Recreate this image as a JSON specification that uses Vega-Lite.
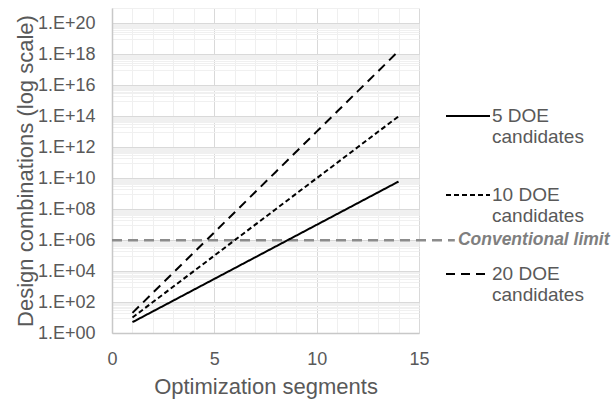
{
  "$schema": "https://vega.github.io/schema/vega-lite/v6.json",
  "width": 307,
  "height": 325,
  "autosize": {"type": "none"},
  "padding": {"left": 112, "top": 8, "right": 195, "bottom": 67},
  "background": "white",
  "config": {"font": "Liberation Sans", "view": {"stroke": null}},
  "datasets": {
    "series": [
      {"n": 1, "series": "5 DOE", "combos": 5},
      {"n": 2, "series": "5 DOE", "combos": 25},
      {"n": 3, "series": "5 DOE", "combos": 125},
      {"n": 4, "series": "5 DOE", "combos": 625},
      {"n": 5, "series": "5 DOE", "combos": 3125},
      {"n": 6, "series": "5 DOE", "combos": 15625},
      {"n": 7, "series": "5 DOE", "combos": 78125},
      {"n": 8, "series": "5 DOE", "combos": 390625},
      {"n": 9, "series": "5 DOE", "combos": 1953125},
      {"n": 10, "series": "5 DOE", "combos": 9765625},
      {"n": 11, "series": "5 DOE", "combos": 48828125},
      {"n": 12, "series": "5 DOE", "combos": 244140625},
      {"n": 13, "series": "5 DOE", "combos": 1220703125},
      {"n": 14, "series": "5 DOE", "combos": 6103515625},
      {"n": 1, "series": "10 DOE", "combos": 10},
      {"n": 2, "series": "10 DOE", "combos": 100},
      {"n": 3, "series": "10 DOE", "combos": 1000},
      {"n": 4, "series": "10 DOE", "combos": 10000},
      {"n": 5, "series": "10 DOE", "combos": 100000},
      {"n": 6, "series": "10 DOE", "combos": 1000000},
      {"n": 7, "series": "10 DOE", "combos": 10000000},
      {"n": 8, "series": "10 DOE", "combos": 100000000},
      {"n": 9, "series": "10 DOE", "combos": 1000000000},
      {"n": 10, "series": "10 DOE", "combos": 10000000000},
      {"n": 11, "series": "10 DOE", "combos": 100000000000},
      {"n": 12, "series": "10 DOE", "combos": 1000000000000},
      {"n": 13, "series": "10 DOE", "combos": 10000000000000},
      {"n": 14, "series": "10 DOE", "combos": 100000000000000},
      {"n": 1, "series": "20 DOE", "combos": 20},
      {"n": 2, "series": "20 DOE", "combos": 400},
      {"n": 3, "series": "20 DOE", "combos": 8000},
      {"n": 4, "series": "20 DOE", "combos": 160000},
      {"n": 5, "series": "20 DOE", "combos": 3200000},
      {"n": 6, "series": "20 DOE", "combos": 64000000},
      {"n": 7, "series": "20 DOE", "combos": 1280000000},
      {"n": 8, "series": "20 DOE", "combos": 25600000000},
      {"n": 9, "series": "20 DOE", "combos": 512000000000},
      {"n": 10, "series": "20 DOE", "combos": 10240000000000},
      {"n": 11, "series": "20 DOE", "combos": 204800000000000},
      {"n": 12, "series": "20 DOE", "combos": 4096000000000000},
      {"n": 13, "series": "20 DOE", "combos": 81920000000000000},
      {"n": 14, "series": "20 DOE", "combos": 1638400000000000000}
    ],
    "limit": [{"label": "Conventional limit", "value": 1000000}]
  },
  "layer": [
    {
      "data": {"name": "limit"},
      "mark": {"type": "rule", "color": "#8c8c8c", "strokeWidth": 2.5, "strokeDash": [10, 6]},
      "encoding": {
        "x": {
          "datum": 0,
          "type": "quantitative",
          "scale": {"domain": [0, 15], "nice": false, "zero": false},
          "axis": {
            "title": "Optimization segments",
            "titleFontSize": 22,
            "titleFontWeight": "normal",
            "titleColor": "#595959",
            "titlePadding": 8,
            "labelFontSize": 18,
            "labelColor": "#595959",
            "labelPadding": 17,
            "labelOverlap": false,
            "labelFlush": false,
            "labelBound": false,
            "ticks": false,
            "grid": true,
            "domainColor": "#c8c8c8",
            "domainWidth": 1.5,
            "values": [1, 2, 3, 4, 6, 7, 8, 9, 11, 12, 13, 14, 0, 5, 10, 15],
            "labelExpr": "datum.value % 5 === 0 ? datum.label : ''",
            "gridColor": {"condition": {"test": "datum.value % 5 === 0", "value": "#d9d9d9"}, "value": "#efefef"},
            "gridWidth": 1
          }
        },
        "x2": {"datum": 16.75},
        "y": {"field": "value", "type": "quantitative"}
      }
    },
    {
      "data": {"name": "series"},
      "mark": {"type": "line", "color": "black", "strokeWidth": 2},
      "encoding": {
        "x": {
          "field": "n",
          "type": "quantitative",
          "scale": {"domain": [0, 15], "nice": false, "zero": false},
          "axis": {
            "title": "Optimization segments",
            "titleFontSize": 22,
            "titleFontWeight": "normal",
            "titleColor": "#595959",
            "titlePadding": 8,
            "labelFontSize": 18,
            "labelColor": "#595959",
            "labelPadding": 17,
            "labelOverlap": false,
            "labelFlush": false,
            "labelBound": false,
            "ticks": false,
            "grid": true,
            "domainColor": "#c8c8c8",
            "domainWidth": 1.5,
            "values": [1, 2, 3, 4, 6, 7, 8, 9, 11, 12, 13, 14, 0, 5, 10, 15],
            "labelExpr": "datum.value % 5 === 0 ? datum.label : ''",
            "gridColor": {"condition": {"test": "datum.value % 5 === 0", "value": "#d9d9d9"}, "value": "#efefef"},
            "gridWidth": 1
          }
        },
        "y": {
          "field": "combos",
          "type": "quantitative",
          "scale": {"type": "log", "domain": [1, 1e21], "nice": false},
          "axis": {
            "title": "Design combinations (log scale)",
            "titleFontSize": 22,
            "titleFontWeight": "normal",
            "titleColor": "#595959",
            "titlePadding": 0,
            "labelFontSize": 18,
            "labelColor": "#595959",
            "labelPadding": 17,
            "labelOverlap": false,
            "labelFlush": false,
            "labelBound": false,
            "ticks": false,
            "domainColor": "#c8c8c8",
            "domainWidth": 1.5,
            "values": [
              10, 20, 30, 40, 50, 60, 70, 80, 90,
              1e3, 2e3, 3e3, 4e3, 5e3, 6e3, 7e3, 8e3, 9e3,
              1e5, 2e5, 3e5, 4e5, 5e5, 6e5, 7e5, 8e5, 9e5,
              1e7, 2e7, 3e7, 4e7, 5e7, 6e7, 7e7, 8e7, 9e7,
              1e9, 2e9, 3e9, 4e9, 5e9, 6e9, 7e9, 8e9, 9e9,
              1e11, 2e11, 3e11, 4e11, 5e11, 6e11, 7e11, 8e11, 9e11,
              1e13, 2e13, 3e13, 4e13, 5e13, 6e13, 7e13, 8e13, 9e13,
              1e15, 2e15, 3e15, 4e15, 5e15, 6e15, 7e15, 8e15, 9e15,
              1e17, 2e17, 3e17, 4e17, 5e17, 6e17, 7e17, 8e17, 9e17,
              1e19, 2e19, 3e19, 4e19, 5e19, 6e19, 7e19, 8e19, 9e19,
              1e21,
              1, 1e2, 1e4, 1e6, 1e8, 1e10, 1e12, 1e14, 1e16, 1e18, 1e20
            ],
            "labelExpr": "abs(log(datum.value)/LN10 - 2*round(log(datum.value)/LN10/2)) < 0.001 ? '1.E+' + (round(log(datum.value)/LN10) < 10 ? '0' : '') + round(log(datum.value)/LN10) : ''",
            "gridColor": {"condition": {"test": "abs(log(datum.value)/LN10 - 2*round(log(datum.value)/LN10/2)) < 0.001", "value": "#d9d9d9"}, "value": "#f0f0f0"},
            "gridWidth": 1
          }
        },
        "strokeDash": {
          "field": "series",
          "type": "nominal",
          "scale": {"domain": ["5 DOE", "10 DOE", "20 DOE"], "range": [[1, 0], [5, 3], [9, 6]]},
          "legend": {
            "title": null,
            "orient": "none",
            "legendX": 333,
            "legendY": 85,
            "padding": 0,
            "symbolType": "stroke",
            "symbolSize": 1936,
            "symbolStrokeWidth": 2,
            "symbolStrokeColor": "black",
            "labelFontSize": 19,
            "labelColor": "#595959",
            "labelOffset": 1,
            "labelLimit": 300,
            "rowPadding": 25,
            "labelExpr": "[datum.label, 'candidates']"
          }
        }
      }
    },
    {
      "data": {"name": "limit"},
      "mark": {"type": "text", "align": "left", "baseline": "middle", "fontStyle": "italic", "fontWeight": "bold", "fontSize": 17.5, "color": "#7f7f7f"},
      "encoding": {
        "x": {
          "datum": 16.9,
          "type": "quantitative",
          "scale": {"domain": [0, 15], "nice": false, "zero": false},
          "axis": {
            "title": "Optimization segments",
            "titleFontSize": 22,
            "titleFontWeight": "normal",
            "titleColor": "#595959",
            "titlePadding": 8,
            "labelFontSize": 18,
            "labelColor": "#595959",
            "labelPadding": 17,
            "labelOverlap": false,
            "labelFlush": false,
            "labelBound": false,
            "ticks": false,
            "grid": true,
            "domainColor": "#c8c8c8",
            "domainWidth": 1.5,
            "values": [1, 2, 3, 4, 6, 7, 8, 9, 11, 12, 13, 14, 0, 5, 10, 15],
            "labelExpr": "datum.value % 5 === 0 ? datum.label : ''",
            "gridColor": {"condition": {"test": "datum.value % 5 === 0", "value": "#d9d9d9"}, "value": "#efefef"},
            "gridWidth": 1
          }
        },
        "y": {"field": "value", "type": "quantitative"},
        "text": {"field": "label"}
      }
    }
  ]
}
